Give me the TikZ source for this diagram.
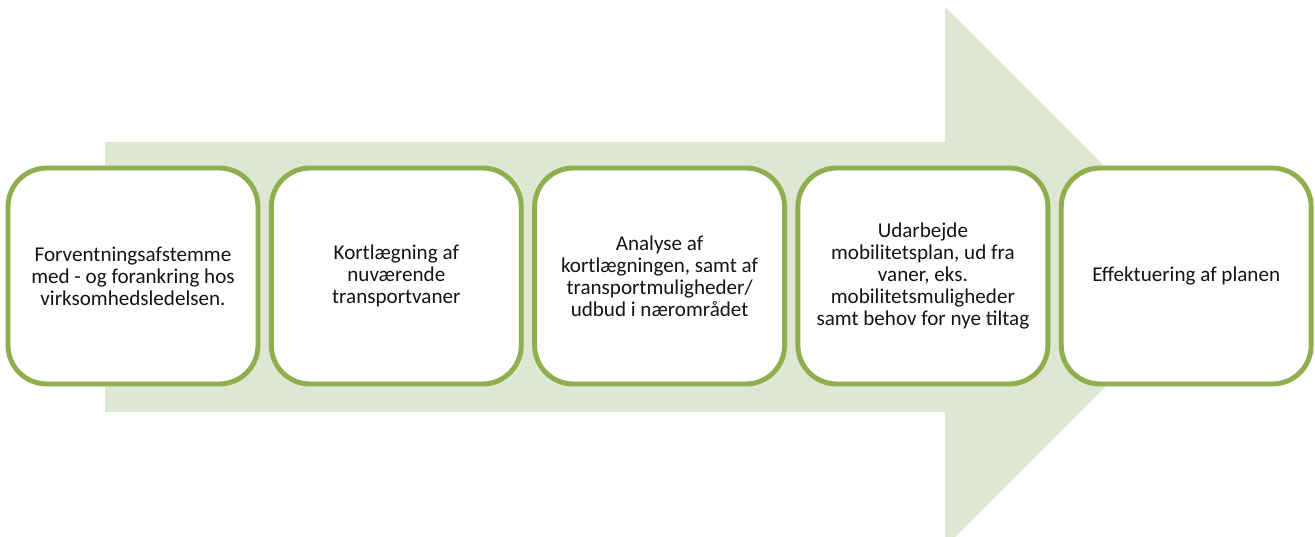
\documentclass[tikz,border=0pt]{standalone}
\usepackage{fontspec}
\setmainfont{Carlito}
\usetikzlibrary{positioning}
\definecolor{arrowgreen}{RGB}{222,231,210}
\definecolor{boxgreen}{RGB}{143,174,78}
\definecolor{textblack}{RGB}{20,20,20}

\begin{document}
\begin{tikzpicture}[x=0.02cm, y=-0.02cm,
    fase/.style={draw=boxgreen, line width=2.8pt, fill=white, rounded corners=22pt,
        minimum width=5cm, minimum height=4.32cm, align=center, text=textblack,
        font=\fontsize{12}{12.6}\selectfont}]
    \useasboundingbox (0,0) rectangle (1315,537);

    % Big arrow in the background
    \begin{scope}
        \clip (0,0) rectangle (1315,537);
        \fill[arrowgreen] (105,142) -- (945,142) -- (945,7) -- (1215,277)
            -- (945,547) -- (945,412) -- (105,412) -- cycle;
    \end{scope}

    % Process steps
    \foreach \i/\txt in {
        1/{Forventningsafstemme\\med - og forankring hos\\virksomhedsledelsen.},
        2/{Kortlægning af\\nuværende\\transportvaner},
        3/{Analyse af\\kortlægningen, samt af\\transportmuligheder/\\udbud i nærområdet},
        4/{Udarbejde\\mobilitetsplan, ud fra\\vaner, eks.\\mobilitetsmuligheder\\samt behov for nye tiltag},
        5/{Effektuering af planen}} {
        \node[fase] (fase\i) at (133+\i*263.3-263.3, 276) {\txt};
    }
\end{tikzpicture}
\end{document}
